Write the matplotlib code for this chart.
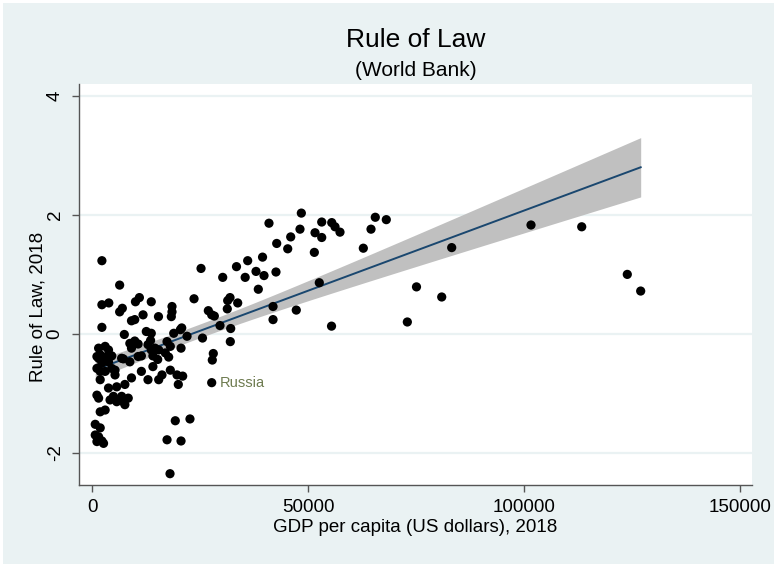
import numpy as np
import matplotlib
matplotlib.use("Agg")
import matplotlib.pyplot as plt
from matplotlib.patches import Rectangle

plt.rcParams['font.family'] = ['Liberation Sans', 'DejaVu Sans']

title = "Rule of Law"
subtitle = "(World Bank)"
xlabel = "GDP per capita (US dollars), 2018"
ylabel = "Rule of Law, 2018"
xticks = [0, 50000, 100000, 150000]
yticks = [-2, 0, 2, 4]

gdp = [
    2290, 6400, 2290, 3890, 7020, 6400, 10060, 10970, 13720, 11820,
    9900, 9140, 15390, 18520, 18520, 18360, 2290, 7480, 12570, 13720,
    18920, 20450, 8760, 9900, 10680, 9140, 13560, 12960, 17370, 18130,
    1530, 3040, 3820, 1900, 1140, 3430, 4570, 6860, 10680, 11430,
    13720, 14100, 15440, 16970, 17750, 1530, 3040, 3820, 2290, 1140,
    1900, 3040, 4570, 5330, 5330, 7250, 8760, 11430, 12960, 14100,
    15440, 16200, 18130, 19680, 1900, 3820, 5720, 7610, 9140, 1140,
    1530, 4180, 4960, 5720, 6860, 7250, 8390, 7610, 1900, 3040,
    750, 1900, 750, 1530, 1140, 2290, 2670, 19280, 22680, 17370,
    20610, 18060, 20770, 22000, 25580, 23620, 25240, 30260, 33450, 36040,
    35460, 37970, 39480, 39820, 42590, 38500, 40970, 42760, 45310, 46000,
    48150, 48460, 51630, 53180, 53180, 51470, 55500, 56260, 57410, 65580,
    68130, 64590, 62810, 52620, 55450, 47290, 41910, 41910, 31410, 31950,
    33730, 31320, 26930, 27710, 28320, 29630, 32110, 32020, 20610, 28080,
    27850, 27710, 14580, 19980, 20990, 15210, 73000, 75120, 80960, 83270,
    101630, 113370, 123920, 127020,
]
rule_of_law = [
    1.23, 0.82, 0.49, 0.52, 0.43, 0.37, 0.54, 0.61, 0.54, 0.32,
    0.24, 0.22, 0.29, 0.46, 0.37, 0.29, 0.11, -0.01, 0.04, 0.01,
    0.01, 0.07, -0.16, -0.12, -0.17, -0.24, -0.11, -0.18, -0.13, -0.21,
    -0.24, -0.21, -0.27, -0.35, -0.38, -0.38, -0.37, -0.41, -0.38, -0.37,
    -0.27, -0.37, -0.27, -0.32, -0.39, -0.41, -0.40, -0.47, -0.49, -0.58,
    -0.63, -0.63, -0.58, -0.61, -0.69, -0.42, -0.47, -0.63, -0.77, -0.55,
    -0.77, -0.69, -0.61, -0.69, -0.77, -0.91, -0.89, -0.85, -0.74, -1.03,
    -1.08, -1.11, -1.05, -1.14, -1.05, -1.14, -1.08, -1.19, -1.31, -1.28,
    -1.52, -1.58, -1.70, -1.73, -1.81, -1.80, -1.84, -1.46, -1.43, -1.78,
    -1.80, -2.35, 0.10, -0.04, -0.07, 0.59, 1.10, 0.95, 1.13, 1.23,
    0.95, 1.05, 1.29, 0.98, 1.04, 0.75, 1.86, 1.52, 1.43, 1.63,
    1.76, 2.03, 1.70, 1.88, 1.62, 1.37, 1.87, 1.80, 1.71, 1.96,
    1.92, 1.76, 1.44, 0.86, 0.13, 0.40, 0.46, 0.24, 0.56, 0.61,
    0.52, 0.42, 0.39, 0.32, 0.30, 0.14, 0.09, -0.13, -0.24, -0.33,
    -0.44, -0.82, -0.24, -0.85, -0.71, -0.43, 0.20, 0.79, 0.62, 1.45,
    1.83, 1.80, 1.00, 0.72,
]
label_country = "Russia"
label_gdp = 27710
label_val = -0.82

x = np.array(gdp, dtype=float)
y = np.array(rule_of_law, dtype=float)

# linear fit with 95% CI of the mean (like Stata lfitci)
n = len(x)
xm, ym = x.mean(), y.mean()
sxx = ((x - xm) ** 2).sum()
b = ((x - xm) * (y - ym)).sum() / sxx
a = ym - b * xm
resid = y - (a + b * x)
s = np.sqrt((resid ** 2).sum() / (n - 2))
tcrit = 1.974
xf = np.linspace(x.min(), x.max(), 200)
yf = a + b * xf
se = s * np.sqrt(1.0 / n + (xf - xm) ** 2 / sxx)

W, H = 774, 564
fig = plt.figure(figsize=(W / 100, H / 100), dpi=100)
fig.patch.set_facecolor('white')
fig.patches.append(Rectangle((3 / W, 0), 1 - 3 / W, 1 - 3 / H, transform=fig.transFigure,
                             facecolor='#EAF2F3', edgecolor='none', zorder=-10))

ax = fig.add_axes([79 / W, 1 - 485 / H, (752 - 79) / W, (485 - 84) / H])
ax.set_facecolor('white')
ax.set_xlim(-3010, 152790)
ax.set_ylim(-2.54, 4.2)

for yt in yticks:
    ax.axhline(yt, color='#EAF2F3', lw=1.6, zorder=0)

ax.fill_between(xf, yf - tcrit * se, yf + tcrit * se, color='#C0C0C0', lw=0, zorder=1)
ax.plot(xf, yf, color='#1A476F', lw=1.4, zorder=2)
ax.scatter(x, y, s=44, color='black', edgecolors='none', zorder=3)
ax.annotate(label_country, (label_gdp, label_val), xytext=(6, 0), textcoords='offset points',
            va='center', ha='left', fontsize=10.5, color='#6E7B50', zorder=4)

for sp in ['top', 'right']:
    ax.spines[sp].set_visible(False)
for sp in ['left', 'bottom']:
    ax.spines[sp].set_color('#555555')
    ax.spines[sp].set_linewidth(1.0)

ax.set_xticks(xticks)
ax.set_xticklabels([str(t) for t in xticks])
ax.set_yticks(yticks)
ax.set_yticklabels([str(t) for t in yticks], rotation=90, va='center')
ax.tick_params(axis='both', direction='out', length=5, width=1, color='#555555',
               labelsize=13.5, labelcolor='black')
ax.tick_params(axis='x', pad=5)
ax.tick_params(axis='y', pad=6)

ax.set_xlabel(xlabel, fontsize=13.5, labelpad=2)
fig.text(38 / W, 1 - 307 / H, ylabel, rotation=90, fontsize=13.5, ha='center', va='center')

fig.text(416 / W, 1 - 40 / H, title, fontsize=19, ha='center', va='center')
fig.text(416 / W, 1 - 71 / H, subtitle, fontsize=15, ha='center', va='center')

fig.savefig('out.png', dpi=100)
